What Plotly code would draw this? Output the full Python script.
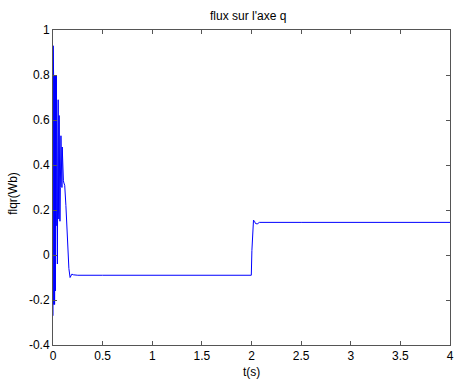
import plotly.graph_objects as go

# q-axis rotor flux versus time
t_s = [0.000, 0.002, 0.004, 0.006, 0.008, 0.010, 0.012, 0.014, 0.016, 0.018,
       0.020, 0.022, 0.024, 0.026, 0.028, 0.030, 0.032, 0.034, 0.036, 0.038,
       0.040, 0.044, 0.048, 0.052, 0.056, 0.059, 0.062, 0.066, 0.070, 0.074,
       0.080, 0.085, 0.090, 0.093, 0.098, 0.105, 0.110, 0.118, 0.130, 0.145,
       0.160, 0.172, 0.180, 0.190, 0.205, 0.250, 0.500, 1.000, 1.500, 1.998,
       2.004, 2.012, 2.020, 2.030, 2.040, 2.057, 2.080, 2.500, 3.000, 3.500,
       4.000]
flqr_wb = [-0.27, 0.93, 0.12, 0.80, -0.22, 0.80, 0.13, 0.80, -0.22, 0.79,
           0.12, 0.80, -0.16, 0.80, 0.12, 0.79, 0.13, 0.80, 0.14, 0.80,
           0.12, -0.04, 0.40, 0.69, 0.20, 0.16, 0.62, 0.40, 0.15, 0.30,
           0.53, 0.33, 0.30, 0.48, 0.33, 0.33, 0.32, 0.31, 0.22, 0.05,
           -0.06, -0.10, -0.095, -0.085, -0.088, -0.09, -0.09, -0.09, -0.09, -0.09,
           0.02, 0.12, 0.155, 0.150, 0.140, 0.138, 0.145, 0.145, 0.145, 0.145,
           0.145]

x_ticks = [0, 0.5, 1, 1.5, 2, 2.5, 3, 3.5, 4]
x_labels = ["0", "0.5", "1", "1.5", "2", "2.5", "3", "3.5", "4"]
y_ticks = [-0.4, -0.2, 0, 0.2, 0.4, 0.6, 0.8, 1]
y_labels = ["-0.4", "-0.2", "0", "0.2", "0.4", "0.6", "0.8", "1"]

font_family = "Liberation Sans, Arial, sans-serif"
axis_color = "#555555"
text_font = dict(family=font_family, size=12, color="#000000")

fig = go.Figure()
fig.add_trace(go.Scatter(
    x=t_s, y=flqr_wb, mode="lines",
    line=dict(color="#0000FF", width=1),
    showlegend=False, hoverinfo="skip",
))

axis_common = dict(
    showline=True, linecolor=axis_color, linewidth=1, mirror="ticks",
    ticks="inside", ticklen=4, tickcolor=axis_color, tickwidth=1,
    showgrid=False, zeroline=False, ticklabeloverflow="allow",
    tickfont=text_font,
)

fig.update_layout(
    width=457, height=381,
    margin=dict(l=53, r=3, t=30, b=36),
    paper_bgcolor="white", plot_bgcolor="white",
    xaxis=dict(range=[0, 4], tickvals=x_ticks, ticktext=x_labels, **axis_common),
    yaxis=dict(range=[-0.4, 1], tickvals=y_ticks, ticktext=y_labels, **axis_common),
    annotations=[
        dict(text="flux sur l'axe q", xref="paper", yref="paper", x=0.49, y=1,
             xanchor="center", yanchor="middle", yshift=14, showarrow=False,
             font=text_font),
        dict(text="t(s)", xref="paper", yref="paper", x=0.499, y=0,
             xanchor="center", yanchor="middle", yshift=-27, showarrow=False,
             font=text_font),
        dict(text="flqr(Wb)", xref="paper", yref="paper", x=0, y=0.48,
             xanchor="center", yanchor="middle", xshift=-40, textangle=-90,
             showarrow=False, font=text_font),
    ],
)

fig.write_html("out.html")
